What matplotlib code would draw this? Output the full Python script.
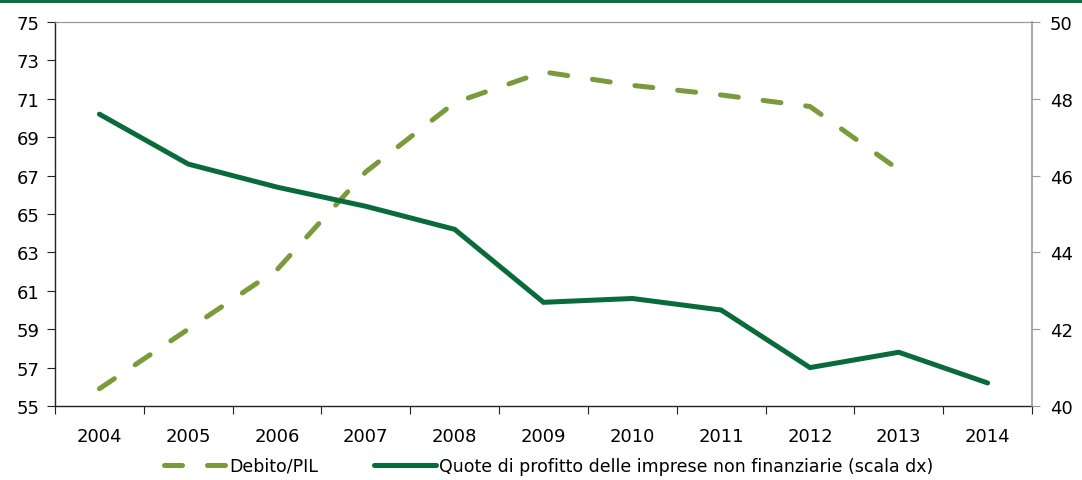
import matplotlib
matplotlib.use("Agg")
import matplotlib.pyplot as plt
from matplotlib.patches import Rectangle
import numpy as np

years = [2004, 2005, 2006, 2007, 2008, 2009, 2010, 2011, 2012, 2013, 2014]
debito_years = [2004, 2005, 2006, 2007, 2008, 2009, 2010, 2011, 2012, 2013]
debito_pil = [55.9, 59.0, 62.1, 67.2, 70.8, 72.4, 71.7, 71.2, 70.6, 67.3]
quote_profitto = [47.6, 46.3, 45.7, 45.2, 44.6, 42.7, 42.8, 42.5, 41.0, 41.4, 40.6]

left_ticks = list(range(55, 76, 2))
right_ticks = list(range(40, 51, 2))

label_debito = "Debito/PIL"
label_quote = "Quote di profitto delle imprese non finanziarie (scala dx)"

light_green = "#7a9a3c"
dark_green = "#0a6b3a"

plt.rcParams["font.family"] = ["DejaVu Sans"]
TICK_FS = 13
LEG_FS = 12.5

fig = plt.figure(figsize=(10.82, 4.81), dpi=100)
fig.patches.append(Rectangle((0, 1 - 4 / 481), 1, 4 / 481, transform=fig.transFigure,
                             facecolor="#0b6e40", edgecolor="none"))

ax = fig.add_axes([55 / 1082, 74 / 481, 977 / 1082, 384 / 481])
ax2 = ax.twinx()

l1, = ax.plot(debito_years, debito_pil, color=light_green, lw=3.6,
              dashes=(3.6, 5.0), dash_capstyle="round", solid_capstyle="round",
              label=label_debito)
l2, = ax2.plot(years, quote_profitto, color=dark_green, lw=3.6,
               solid_capstyle="round", solid_joinstyle="miter", label=label_quote)

ax.set_xlim(years[0] - 0.5, years[-1] + 0.5)
ax.set_ylim(left_ticks[0], left_ticks[-1])
ax2.set_ylim(right_ticks[0], right_ticks[-1])
ax.set_yticks(left_ticks)
ax2.set_yticks(right_ticks)

ax.set_xticks(np.arange(years[0] - 0.5, years[-1] + 1, 1.0))
ax.set_xticklabels([])
ax.set_xticks(years, minor=True)
ax.set_xticklabels([str(y) for y in years], minor=True)
ax.tick_params(axis="x", which="major", length=6, color="#222222", direction="out")
ax.tick_params(axis="x", which="minor", length=0, pad=15, labelsize=TICK_FS)
ax.tick_params(axis="y", length=6, color="#222222", pad=5, labelsize=TICK_FS)
ax2.tick_params(axis="y", length=6, color="#999999", pad=7, labelsize=TICK_FS)

for sp in ["left", "bottom"]:
    ax.spines[sp].set_color("#222222")
    ax.spines[sp].set_linewidth(1.0)
ax.spines["top"].set_color("#999999")
ax.spines["right"].set_visible(False)
ax2.spines["right"].set_color("#999999")
ax2.spines["right"].set_linewidth(1.2)
ax2.spines["top"].set_color("#999999")
for sp in ["left", "bottom"]:
    ax2.spines[sp].set_visible(False)

fig.legend(handles=[l1, l2], loc="center", bbox_to_anchor=(0.507, 14 / 481),
           ncol=2, frameon=False, handlelength=3.6, handletextpad=0.15,
           columnspacing=3.2, fontsize=LEG_FS)

fig.savefig("out.png", dpi=100)
